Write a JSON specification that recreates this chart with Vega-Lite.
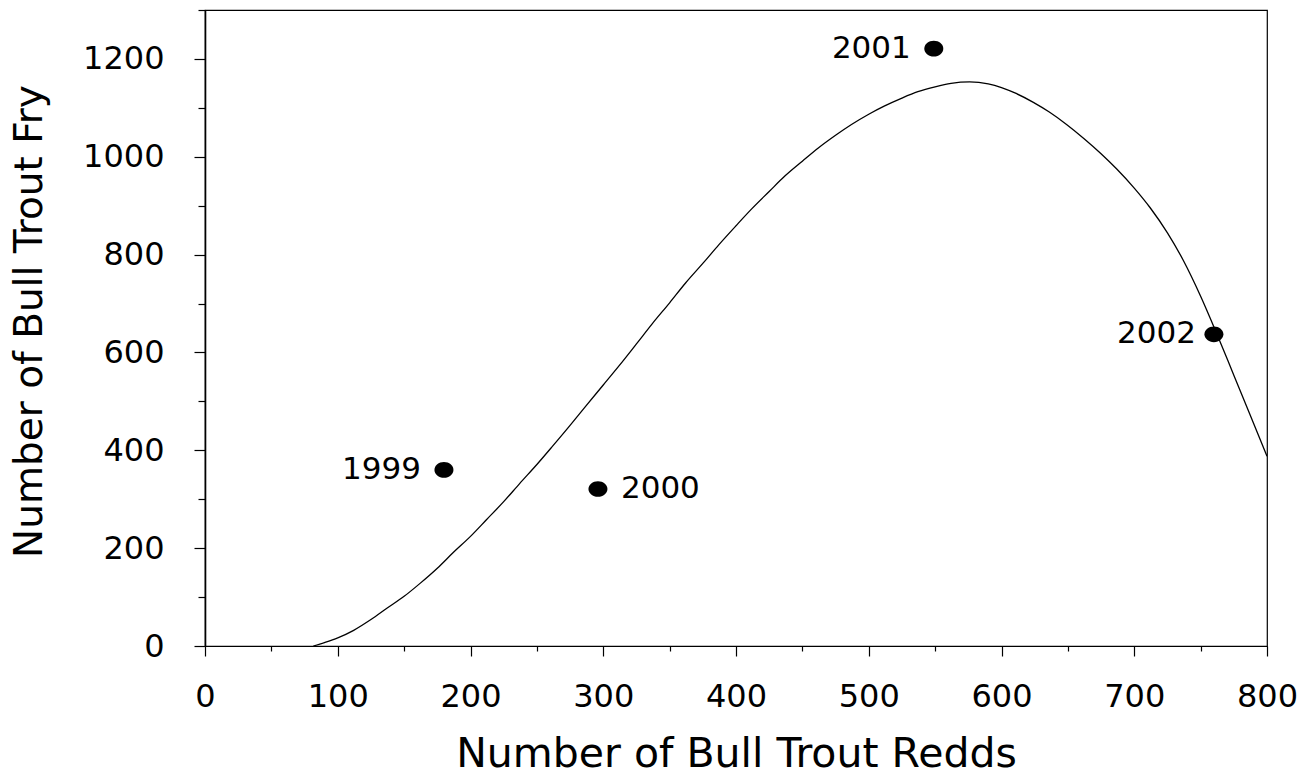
{
  "$schema": "https://vega.github.io/schema/vega-lite/v6.json",
  "width": 1062,
  "height": 636,
  "autosize": {"type": "none"},
  "padding": {"left": 205, "top": 10, "right": 43, "bottom": 129},
  "background": "white",
  "config": {
    "view": {"stroke": "black", "strokeWidth": 1.2},
    "axis": {
      "grid": false,
      "domainColor": "black",
      "tickColor": "black",
      "labelColor": "black",
      "titleColor": "black",
      "labelFont": "DejaVu Sans",
      "titleFont": "DejaVu Sans",
      "titleFontWeight": "normal"
    }
  },
  "datasets": {
    "curve": [
      {"redds": 81.6, "fry": 0},
      {"redds": 90, "fry": 7},
      {"redds": 100, "fry": 16.6},
      {"redds": 112, "fry": 32},
      {"redds": 125, "fry": 54},
      {"redds": 137, "fry": 77},
      {"redds": 150, "fry": 101.5},
      {"redds": 162, "fry": 128},
      {"redds": 175, "fry": 159},
      {"redds": 187, "fry": 191},
      {"redds": 200, "fry": 224},
      {"redds": 212, "fry": 258},
      {"redds": 225, "fry": 295},
      {"redds": 237, "fry": 332},
      {"redds": 250, "fry": 371},
      {"redds": 262, "fry": 409},
      {"redds": 275, "fry": 451},
      {"redds": 287, "fry": 491},
      {"redds": 300, "fry": 533.5},
      {"redds": 312, "fry": 573},
      {"redds": 325, "fry": 617.5},
      {"redds": 337, "fry": 659},
      {"redds": 350, "fry": 701.5},
      {"redds": 362, "fry": 742},
      {"redds": 375, "fry": 782},
      {"redds": 387, "fry": 820},
      {"redds": 400, "fry": 859},
      {"redds": 412, "fry": 894},
      {"redds": 425, "fry": 929},
      {"redds": 437, "fry": 961},
      {"redds": 450, "fry": 991},
      {"redds": 462, "fry": 1018},
      {"redds": 475, "fry": 1044},
      {"redds": 487, "fry": 1066},
      {"redds": 500, "fry": 1087},
      {"redds": 512, "fry": 1104},
      {"redds": 525, "fry": 1120},
      {"redds": 537, "fry": 1133},
      {"redds": 550, "fry": 1143},
      {"redds": 562, "fry": 1150},
      {"redds": 576, "fry": 1153},
      {"redds": 590, "fry": 1149},
      {"redds": 600, "fry": 1141.5},
      {"redds": 611, "fry": 1129.4},
      {"redds": 624, "fry": 1111.2},
      {"redds": 636, "fry": 1091.4},
      {"redds": 649, "fry": 1066},
      {"redds": 662, "fry": 1037.4},
      {"redds": 675, "fry": 1006.2},
      {"redds": 687, "fry": 974.4},
      {"redds": 700, "fry": 936},
      {"redds": 712, "fry": 895.8},
      {"redds": 725, "fry": 844.5},
      {"redds": 737, "fry": 788},
      {"redds": 750, "fry": 715},
      {"redds": 762, "fry": 639.4},
      {"redds": 775, "fry": 553.6},
      {"redds": 787, "fry": 474.4},
      {"redds": 800, "fry": 388}
    ],
    "years": [
      {"redds": 180, "fry": 360, "year": "1999"},
      {"redds": 296, "fry": 321, "year": "2000"},
      {"redds": 549, "fry": 1221, "year": "2001"},
      {"redds": 760, "fry": 637, "year": "2002"}
    ]
  },
  "encoding": {
    "x": {
      "field": "redds",
      "type": "quantitative",
      "scale": {"domain": [0, 800], "nice": false, "zero": false},
      "axis": {
        "title": "Number of Bull Trout Redds",
        "values": [0, 50, 100, 150, 200, 250, 300, 350, 400, 450, 500, 550, 600, 650, 700, 750, 800],
        "format": "d",
        "labelExpr": "datum.value % 100 === 0 ? datum.label : ''",
        "tickSize": {"condition": {"test": "datum.value % 100 === 0", "value": 10}, "value": 5},
        "tickWidth": 1.2,
        "domainWidth": 1.2,
        "labelFontSize": 32,
        "labelPadding": 25,
        "labelFlush": false,
        "labelOverlap": false,
        "titleFontSize": 41,
        "titleBaseline": "alphabetic",
        "titleY": 120
      }
    },
    "y": {
      "field": "fry",
      "type": "quantitative",
      "scale": {"domain": [0, 1300], "nice": false},
      "axis": {
        "title": "Number of Bull Trout Fry",
        "values": [0, 100, 200, 300, 400, 500, 600, 700, 800, 900, 1000, 1100, 1200, 1300],
        "format": "d",
        "labelExpr": "datum.value % 200 === 0 ? datum.label : ''",
        "tickSize": {"condition": {"test": "datum.value % 200 === 0", "value": 11}, "value": 7},
        "tickWidth": 1.2,
        "domainWidth": 1.6,
        "labelFontSize": 32,
        "labelPadding": 30,
        "labelFlush": false,
        "labelOverlap": false,
        "titleFontSize": 39,
        "titleBaseline": "alphabetic",
        "titleAngle": -90,
        "titleX": -164,
        "titleY": 311
      }
    }
  },
  "layer": [
    {
      "data": {"name": "curve"},
      "mark": {"type": "line", "color": "black", "strokeWidth": 1.3, "interpolate": "monotone", "clip": true}
    },
    {
      "data": {"name": "years"},
      "mark": {
        "type": "point",
        "shape": "M-1,0A1,0.82,0,1,1,1,0A1,0.82,0,1,1,-1,0Z",
        "filled": true,
        "color": "black",
        "opacity": 1,
        "size": 361
      }
    },
    {
      "data": {"name": "years"},
      "mark": {
        "type": "text",
        "font": "DejaVu Sans",
        "fontSize": 31,
        "color": "black",
        "baseline": "middle",
        "align": {"expr": "datum.year == '2000' ? 'left' : 'right'"},
        "dx": {"expr": "datum.year == '2000' ? 23 : (datum.year == '2002' ? -18 : -23)"}
      },
      "encoding": {"text": {"field": "year", "type": "nominal"}}
    }
  ]
}
